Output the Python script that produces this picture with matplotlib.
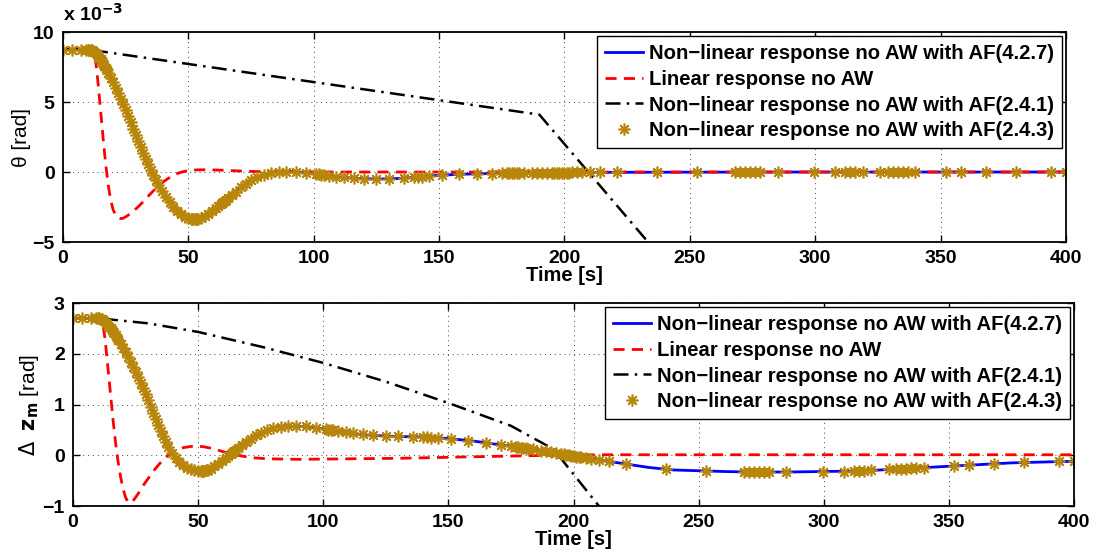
import matplotlib
matplotlib.use('Agg')
import matplotlib.pyplot as plt

plt.rcParams['font.family'] = ['Liberation Sans', 'DejaVu Sans']

LABELS = ['Non\u2212linear response no AW with AF(4.2.7)',
          'Linear response no AW',
          'Non\u2212linear response no AW with AF(2.4.1)',
          'Non\u2212linear response no AW with AF(2.4.3)']
XTICKS = [0, 50, 100, 150, 200, 250, 300, 350, 400]

# ---- top panel: theta [rad] x 1e-3 ----
t_nl = [0, 10, 11, 12, 13, 14, 15, 16, 17, 18, 19, 20, 22, 24, 26, 28, 30, 32, 34, 36,
        38, 40, 42, 44, 46, 48, 50, 52, 54, 56, 58, 60, 62, 64, 66, 68, 70, 72, 74, 76,
        78, 80, 84, 88, 92, 96, 100, 105, 110, 115, 120, 125, 130, 135, 140, 145, 150,
        160, 170, 180, 190, 200, 220, 250, 300, 400]
theta_nl = [8.75, 8.75, 8.73, 8.65, 8.5, 8.3, 8.05, 7.75, 7.45, 7.1, 6.75, 6.4, 5.65, 4.85,
            4.0, 3.1, 2.2, 1.35, 0.55, -0.2, -0.9, -1.5, -2.05, -2.5, -2.9, -3.15, -3.3,
            -3.37, -3.33, -3.2, -2.98, -2.72, -2.45, -2.15, -1.85, -1.55, -1.25, -0.97,
            -0.72, -0.5, -0.32, -0.18, -0.03, 0.02, 0.02, -0.03, -0.12, -0.24, -0.35,
            -0.43, -0.48, -0.5, -0.49, -0.45, -0.38, -0.3, -0.23, -0.15, -0.11, -0.08,
            -0.06, -0.04, -0.02, -0.01, 0.0, 0.0]

t_lin_top = [0, 11, 12, 12.5, 13, 13.5, 14, 15, 16, 17, 18, 19, 20, 21, 22, 23, 24, 25,
             26, 28, 30, 32, 34, 36, 38, 40, 42, 44, 46, 48, 50, 53, 56, 60, 65, 70, 76,
             85, 100, 400]
theta_lin = [8.75, 8.75, 8.6, 8.35, 7.9, 7.2, 6.3, 4.4, 2.4, 0.6, -0.9, -2.0, -2.7, -3.1,
             -3.28, -3.33, -3.3, -3.2, -3.08, -2.8, -2.48, -2.12, -1.72, -1.35, -1.0, -0.7,
             -0.45, -0.24, -0.08, 0.03, 0.1, 0.15, 0.16, 0.15, 0.12, 0.08, 0.04, 0.02,
             0.0, 0.0]

t_af241_top = [0, 10, 190, 240]
theta_af241 = [8.75, 8.75, 4.1, -6.4]

# ---- bottom panel: delta z_m [rad] ----
dz_nl = [2.7, 2.7, 2.69, 2.66, 2.61, 2.55, 2.5, 2.43, 2.36, 2.28, 2.2, 2.12, 1.93, 1.74,
         1.54, 1.32, 1.08, 0.84, 0.6, 0.37, 0.17, 0.0, -0.12, -0.2, -0.26, -0.29, -0.31,
         -0.31, -0.29, -0.24, -0.17, -0.1, -0.02, 0.06, 0.14, 0.22, 0.29, 0.36, 0.41,
         0.46, 0.5, 0.53, 0.56, 0.57, 0.57, 0.55, 0.52, 0.48, 0.44, 0.41, 0.39, 0.38,
         0.37, 0.365, 0.36, 0.345, 0.33, 0.28, 0.21, 0.15, 0.07, -0.02, -0.17, -0.31,
         -0.33, -0.12]
t_nl_tail = [400, 390, 375, 360, 345, 330, 315, 285, 270, 260, 240, 230, 210]
dz_nl_tail = [-0.12, -0.13, -0.15, -0.19, -0.23, -0.27, -0.31, -0.33, -0.33, -0.32,
              -0.29, -0.24, -0.09]

t_lin_bot = [0, 11, 11.5, 12, 12.5, 13, 14, 15, 16, 17, 18, 19, 20, 21, 22, 23, 24, 26,
             28, 30, 32, 34, 36, 38, 40, 44, 48, 52, 56, 60, 64, 68, 72, 78, 90, 110, 130,
             150, 170, 192, 210, 400]
dz_lin = [2.7, 2.7, 2.65, 2.55, 2.4, 2.2, 1.7, 1.2, 0.7, 0.25, -0.12, -0.42, -0.66, -0.83,
          -0.92, -0.94, -0.9, -0.76, -0.6, -0.46, -0.32, -0.2, -0.09, 0.0, 0.07, 0.15,
          0.18, 0.17, 0.13, 0.07, 0.02, -0.02, -0.05, -0.07, -0.08, -0.07, -0.06, -0.04,
          -0.02, 0.0, 0.01, 0.01]

t_af241_bot = [0, 10, 30, 50, 76, 100, 125, 150, 175, 192, 215]
dz_af241 = [2.7, 2.7, 2.6, 2.43, 2.13, 1.82, 1.45, 1.03, 0.58, 0.12, -1.3]

# ---- AF(2.4.3) solver samples (same time steps in both panels) ----
t_af243 = [0, 3.5, 7, 9, 10, 10.5, 11, 11.5, 12, 12.5, 13, 13.5, 14, 14.5, 15, 15.5, 16,
           16.5, 17, 17.5, 18, 19, 20, 21, 22, 23, 24, 25, 26, 27, 28, 29, 30, 31, 32, 33,
           34, 35, 36, 37, 38, 39.5, 41, 42.5, 44, 45.5, 47, 48.5, 50, 51, 51.5, 52, 52.5,
           53, 53.5, 54, 55, 56.5, 58, 59.5, 61, 62, 63, 63.5, 64, 64.5, 65, 66, 67.5, 69,
           71, 73, 75, 77.5, 80, 83, 86, 89, 93, 97, 101, 102, 103, 104, 106, 109, 112,
           116, 120, 125, 130, 136, 140, 141.5, 143, 146, 151, 158, 165, 171, 175, 177,
           178, 179, 180, 181, 182, 184, 187, 189, 191, 193, 195, 196, 197, 198, 199, 200,
           201, 202, 203, 205, 207, 210, 214, 221, 237, 253, 268, 270, 272, 274, 276, 278,
           285, 299.5, 308, 312, 314, 316, 319, 326, 329, 331, 333, 335, 337, 340, 352,
           358, 368, 380, 394, 400]
theta_af243 = [8.75, 8.75, 8.75, 8.75, 8.75, 8.74, 8.73, 8.7, 8.65, 8.58, 8.5, 8.4, 8.3,
               8.18, 8.05, 7.9, 7.75, 7.6, 7.45, 7.28, 7.1, 6.75, 6.4, 6.02, 5.65, 5.25,
               4.85, 4.43, 4.0, 3.55, 3.1, 2.65, 2.2, 1.77, 1.35, 0.95, 0.55, 0.17, -0.2,
               -0.55, -0.9, -1.35, -1.8, -2.17, -2.5, -2.8, -3.03, -3.2, -3.3, -3.34, -3.36,
               -3.37, -3.37, -3.36, -3.35, -3.33, -3.27, -3.15, -2.98, -2.79, -2.58, -2.45,
               -2.3, -2.22, -2.15, -2.07, -2.0, -1.85, -1.62, -1.4, -1.1, -0.85, -0.6,
               -0.36, -0.18, -0.06, 0.0, 0.02, 0.01, -0.05, -0.14, -0.16, -0.18, -0.21,
               -0.26, -0.32, -0.38, -0.44, -0.48, -0.5, -0.49, -0.44, -0.38, -0.36, -0.34,
               -0.29, -0.22, -0.16, -0.13, -0.11, -0.1, -0.09, -0.09, -0.08, -0.08, -0.08,
               -0.08, -0.07, -0.07, -0.06, -0.06, -0.05, -0.05, -0.05, -0.04, -0.04, -0.04,
               -0.04, -0.04, -0.04, -0.03, -0.03, -0.03, -0.03, -0.02, -0.02, -0.01, -0.01,
               0, 0, 0, 0, 0, 0, 0, 0, 0, 0, 0, 0, 0, 0, 0, 0, 0, 0, 0, 0, 0, 0, 0, 0, 0, 0]
dz_af243 = [2.7, 2.7, 2.7, 2.7, 2.7, 2.7, 2.69, 2.68, 2.66, 2.64, 2.61, 2.58, 2.55, 2.52,
            2.5, 2.46, 2.43, 2.4, 2.36, 2.32, 2.28, 2.2, 2.12, 2.03, 1.93, 1.84, 1.74, 1.64,
            1.54, 1.43, 1.32, 1.2, 1.08, 0.96, 0.84, 0.72, 0.6, 0.48, 0.37, 0.27, 0.17,
            0.05, -0.06, -0.14, -0.2, -0.25, -0.28, -0.3, -0.31, -0.31, -0.31, -0.31,
            -0.31, -0.3, -0.3, -0.29, -0.27, -0.22, -0.17, -0.12, -0.06, -0.02, 0.02, 0.04,
            0.06, 0.08, 0.1, 0.14, 0.2, 0.26, 0.33, 0.39, 0.44, 0.49, 0.53, 0.55, 0.57,
            0.57, 0.57, 0.54, 0.51, 0.5, 0.5, 0.49, 0.47, 0.45, 0.43, 0.41, 0.39, 0.38,
            0.37, 0.36, 0.36, 0.36, 0.35, 0.34, 0.33, 0.29, 0.25, 0.21, 0.18, 0.17, 0.16,
            0.15, 0.15, 0.14, 0.13, 0.12, 0.09, 0.08, 0.06, 0.04, 0.03, 0.02, 0.01, 0.0,
            -0.01, -0.02, -0.03, -0.03, -0.04, -0.05, -0.07, -0.09, -0.12, -0.18, -0.27,
            -0.31, -0.33, -0.33, -0.33, -0.33, -0.33, -0.33, -0.33, -0.33, -0.32, -0.31,
            -0.31, -0.31, -0.3, -0.28, -0.28, -0.27, -0.27, -0.26, -0.26, -0.25, -0.22,
            -0.2, -0.17, -0.14, -0.12, -0.12]

# bottom blue curve: head shares the top time base, tail listed separately
t_nl_bot = t_nl[:-4] + t_nl_tail[::-1]
dz_nl_bot = dz_nl[:-4] + dz_nl_tail[::-1]

BLUE, RED, GOLD = '#0000FF', '#FF0000', '#B8860B'


def draw_panel(ax, series, ylim, yticks, ylabel):
    (tb, yb), (tr, yr), (tk, yk), (ts, ys) = series
    ax.plot(tb, yb, color=BLUE, lw=2, label=LABELS[0])
    ax.plot(tr, yr, color=RED, lw=2, ls='--', dashes=(4, 2.6), label=LABELS[1])
    ax.plot(tk, yk, color='black', lw=1.8, ls='-.', dashes=(6, 2.5, 1, 2.5),
            label=LABELS[2])
    ax.plot(ts, ys, ls='none', marker=(8, 2, 0), ms=8.5, mew=1.2, color=GOLD,
            label=LABELS[3])
    ax.set_xlim(0, 400)
    ax.set_ylim(*ylim)
    ax.set_xticks(XTICKS)
    ax.set_yticks(yticks)
    ax.grid(True, ls=(0, (1, 4)), color='#444444', lw=0.7)
    ax.tick_params(direction='in', top=True, right=True, length=5, width=1,
                   labelsize=14, pad=6)
    for lab in ax.get_xticklabels() + ax.get_yticklabels():
        lab.set_fontweight('bold')
    for sp in ax.spines.values():
        sp.set_linewidth(1.3)
    ax.set_xlabel('Time [s]', fontsize=14.5, fontweight='bold', labelpad=-1)
    ax.set_ylabel(ylabel, fontsize=15, labelpad=1)
    leg = ax.legend(loc='upper right', prop={'weight': 'bold', 'size': 14.6},
                    fancybox=False, framealpha=1, edgecolor='black',
                    handlelength=1.85, handletextpad=0.3, labelspacing=0.33,
                    borderpad=0.4, borderaxespad=0.2)
    leg.get_frame().set_linewidth(1.0)


fig = plt.figure(figsize=(10.96, 5.56), dpi=100)
ax1 = fig.add_axes([0.0575, 0.5647, 0.915, 0.3777])
ax2 = fig.add_axes([0.0666, 0.0899, 0.9134, 0.3651])

draw_panel(ax1, [(t_nl, theta_nl), (t_lin_top, theta_lin),
                 (t_af241_top, theta_af241), (t_af243, theta_af243)],
           (-5, 10), [-5, 0, 5, 10], '\u03b8 [rad]')
draw_panel(ax2, [(t_nl_bot, dz_nl_bot), (t_lin_bot, dz_lin),
                 (t_af241_bot, dz_af241), (t_af243, dz_af243)],
           (-1, 3), [-1, 0, 1, 2, 3], r'$\Delta$  $\mathbf{z_m}$ [rad]')

fig.text(0.0575, 0.955, r'x 10$^{\mathbf{-3}}$', fontsize=14, fontweight='bold',
         ha='left', va='bottom')

fig.savefig('out.png', dpi=100)
